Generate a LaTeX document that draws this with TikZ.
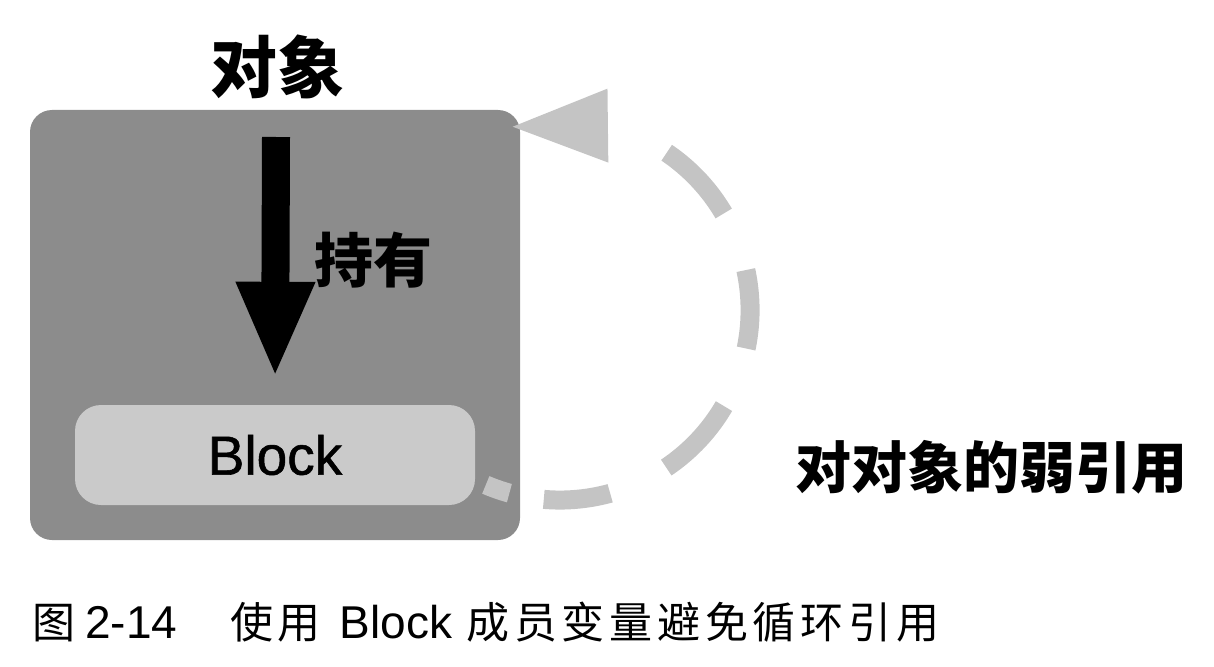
\documentclass[tikz,border=0pt]{standalone}
\usepackage{fontspec}
\setmainfont{Liberation Sans}
\newfontfamily\cjk{Noto Sans CJK SC}
\newfontfamily\cjkcap[LetterSpace=11]{Noto Sans CJK SC}
\newfontfamily\blockfont[FakeBold=1]{Liberation Sans}
\usetikzlibrary{arrows.meta,bending}
\definecolor{boxgray}{HTML}{8C8C8C}
\definecolor{blockgray}{HTML}{CACACA}
\definecolor{dashgray}{HTML}{C4C4C4}
\begin{document}
\begin{tikzpicture}[x=1pt,y=-1pt,
  cjklabel/.style={inner sep=0pt, font=\cjk\bfseries},
  panel/.style={fill=boxgray, rounded corners=22pt, minimum width=490pt, minimum height=430pt, inner sep=0pt},
  blockbox/.style={fill=blockgray, rounded corners=26pt, minimum width=400pt, minimum height=100pt, inner sep=0pt, font=\blockfont\fontsize{55}{60}\selectfont},
  holdarrow/.style={line width=28pt, -{Triangle[length=96pt, width=72pt]}},
  weakarrow/.style={dashgray, line width=19pt,
    dash pattern=on 25pt off 35pt on 67pt off 62pt on 85pt off 62pt on 79pt off 61pt on 84pt off 300pt,
    -{Triangle[length=98pt, width=68pt]}}
]
\useasboundingbox (0,0) rectangle (1214,666);
\node[cjklabel, font=\cjk\bfseries\fontsize{67}{72}\selectfont] (title) at (277,67) {对象};
\node[panel] (obj) at (275,325) {};
\node[blockbox] (block) at (275,455) {Block};
\coordinate (holdstart) at (276,137);
\draw[holdarrow, shorten >=27pt] (holdstart) -- (block.north);
\node[cjklabel, font=\cjk\bfseries\fontsize{59}{64}\selectfont] (hold) at (373,260) {持有};
\coordinate (weakstart) at (485.8,484.9);
\draw[weakarrow] (weakstart) arc[start angle=113, end angle=-105.3, radius=190] coordinate (weakend);
\node[cjklabel, font=\cjk\bfseries\fontsize{56}{60}\selectfont] (weak) at (991,467) {对对象的弱引用};
\node[anchor=base west, inner sep=0pt, font=\fontsize{46}{50}\selectfont] (caption) at (32,638) {{\cjkcap\fontsize{43}{50}\selectfont 图}\hspace{10pt}2-14\hspace{53pt}{\cjkcap\fontsize{43}{50}\selectfont 使用}\hspace{19pt}Block\hspace{14pt}{\cjkcap\fontsize{43}{50}\selectfont 成员变量避免循环引用}};
\end{tikzpicture}
\end{document}
